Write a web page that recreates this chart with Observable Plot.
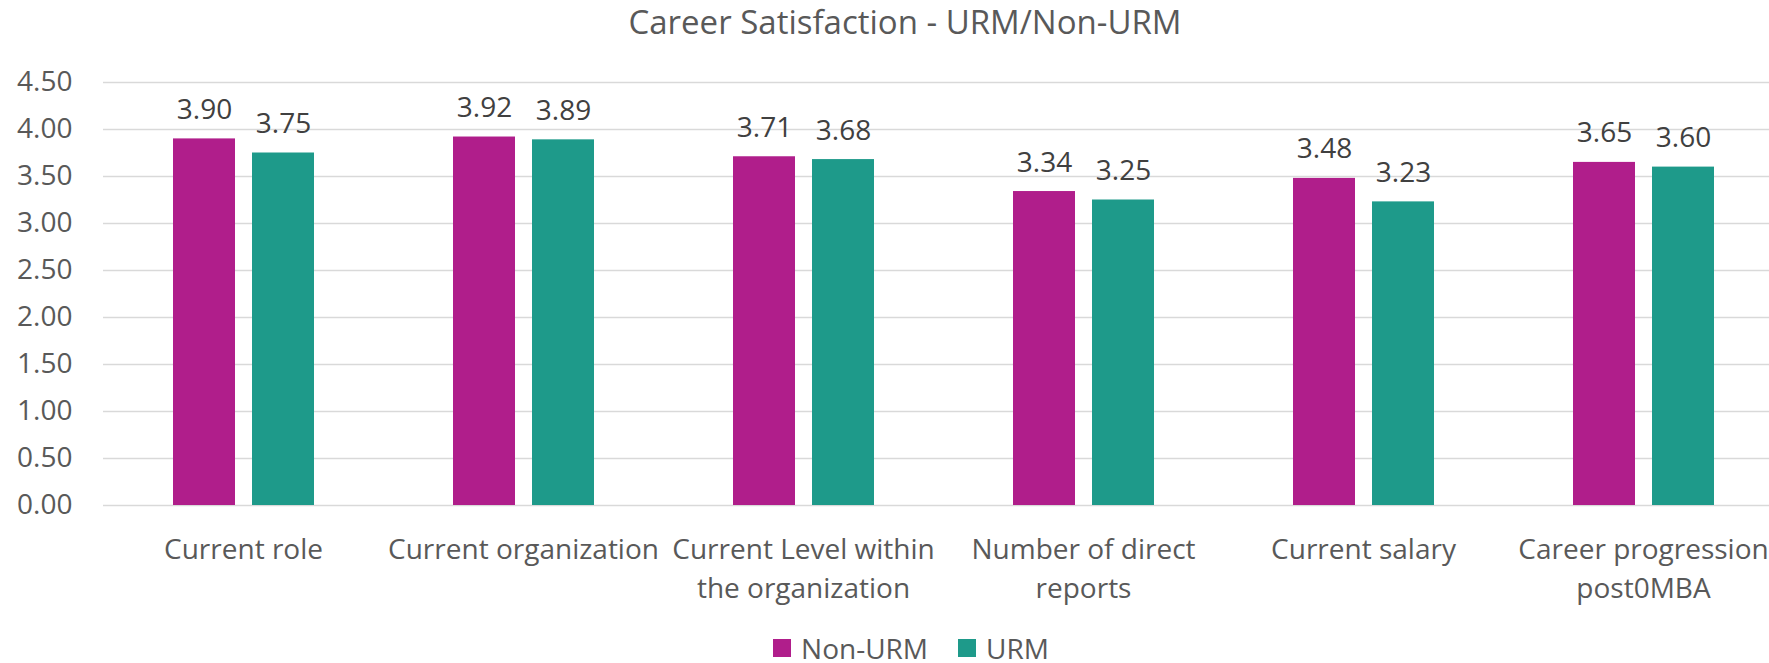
<!DOCTYPE html>
<html>
<head>
<meta charset="utf-8">
<script src="https://cdn.jsdelivr.net/npm/d3@7"></script>
<script src="https://cdn.jsdelivr.net/npm/@observablehq/plot@0.6"></script>
<style>
  html, body { margin: 0; padding: 0; overflow: hidden; background: white; width: 1769px; height: 663px; }
  #title { width: 1810px; height: 43px; line-height: 43px; text-align: center; font-family: "Open Sans", sans-serif; font-size: 33px; color: #595959; white-space: nowrap; }
  #chart { width: 1769px; height: 589px; overflow: hidden; }
  #chart svg { max-width: none !important; }
  #legend { width: 1822px; height: 32px; display: flex; justify-content: center; align-items: center; font-family: "Open Sans", sans-serif; font-size: 28px; color: #595959; white-space: nowrap; }
  .item { display: flex; align-items: center; }
  .item + .item { margin-left: 30px; }
  .sw { width: 18px; height: 18px; margin-right: 10px; display: inline-block; }
</style>
</head>
<body>
<div id="title"></div>
<div id="chart"></div>
<div id="legend"></div>
<script>
const titleText = "Career Satisfaction - URM/Non-URM";
const categories = ["Current role", "Current organization", "Current Level within the organization", "Number of direct reports", "Current salary", "Career progression post0MBA"];
const categoryLabels = ["Current role", "Current organization", "Current Level within\nthe organization", "Number of direct\nreports", "Current salary", "Career progression\npost0MBA"];
const seriesNames = ["Non-URM", "URM"];
const nonUrmValues = [3.90, 3.92, 3.71, 3.34, 3.48, 3.65];
const urmValues = [3.75, 3.89, 3.68, 3.25, 3.23, 3.60];
const yTicks = [0, 0.5, 1, 1.5, 2, 2.5, 3, 3.5, 4, 4.5];
const seriesColors = ["#B01E8B", "#1E9A8A"];

const data = [];
categories.forEach((c, i) => {
  data.push({category: c, series: seriesNames[0], value: nonUrmValues[i]});
  data.push({category: c, series: seriesNames[1], value: urmValues[i]});
});
const labelMap = new Map(categories.map((c, i) => [c, categoryLabels[i]]));

document.getElementById("title").textContent = titleText;

const chart = Plot.plot({
  width: 1783,
  height: 589,
  marginLeft: 103,
  marginRight: 0,
  marginTop: 39,
  marginBottom: 127,
  style: {fontFamily: "Open Sans, sans-serif", background: "white", maxWidth: "none"},
  fx: {domain: categories, padding: 0, label: null, axis: null},
  x: {domain: seriesNames, paddingInner: 0.219, paddingOuter: 0.86, axis: null},
  y: {domain: [0, 4.5], axis: null},
  color: {domain: seriesNames, range: seriesColors},
  marks: [
    Plot.gridY(yTicks, {stroke: "#d9d9d9", strokeOpacity: 1, strokeWidth: 1.5}),
    Plot.barY(data, {fx: "category", x: "series", y: "value", fill: "series"}),
    Plot.text(data, {fx: "category", x: "series", y: "value", text: d => d.value.toFixed(2), lineAnchor: "bottom", dy: -20, fontSize: 28, fill: "#404040"}),
    Plot.axisY({ticks: yTicks, tickFormat: d3.format(".2f"), tickSize: 0, tickPadding: 31, fontSize: 28, fill: "#595959", label: null}),
    Plot.axisFx({anchor: "bottom", tickSize: 0, tickPadding: 26, tickFormat: d => labelMap.get(d), fontSize: 28, fill: "#595959", lineHeight: 1.39, label: null})
  ]
});
document.getElementById("chart").appendChild(chart);

const legend = document.getElementById("legend");
seriesNames.forEach((s, i) => {
  const item = document.createElement("span");
  item.className = "item";
  const sw = document.createElement("span");
  sw.className = "sw";
  sw.style.background = seriesColors[i];
  item.appendChild(sw);
  item.appendChild(document.createTextNode(s));
  legend.appendChild(item);
});
</script>
</body>
</html>
